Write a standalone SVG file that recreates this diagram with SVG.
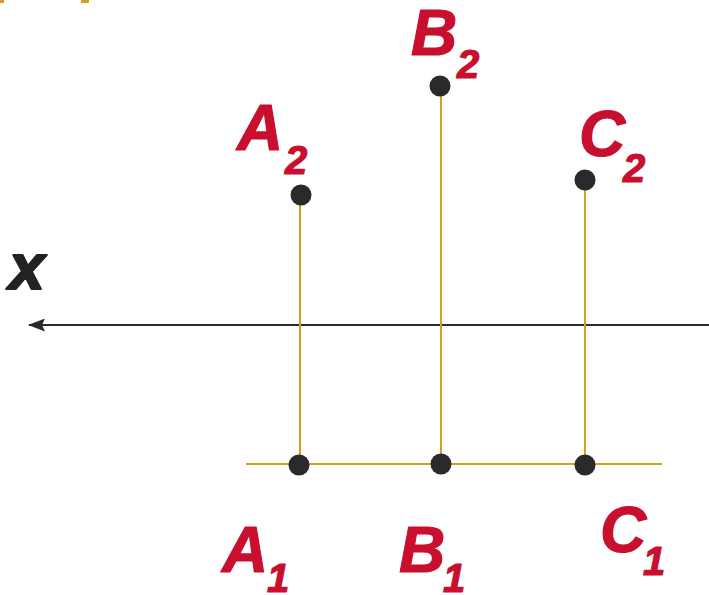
<svg xmlns="http://www.w3.org/2000/svg" width="709" height="595" viewBox="0 0 709 595">
<style>
.lbl{font-family:"Liberation Sans",Arial,sans-serif;font-weight:bold;font-style:italic;fill:#C8102E;stroke:#C8102E;stroke-width:1.2;stroke-linejoin:round}
.big{font-size:64px}
.sub{font-size:40px}
.proj{stroke:#D4A020;stroke-width:2;fill:none}
.pt{fill:#2A2A2A}
</style>
<defs>
<marker id="arr" markerWidth="17" markerHeight="13" refX="16" refY="6.5" orient="auto" markerUnits="userSpaceOnUse">
<path d="M0,0 L17,6.5 L0,13 L3,6.5 Z" fill="#2A2A2A"/>
</marker>
</defs>
<rect width="709" height="595" fill="#fff"/>
<g id="clip-fragments" fill="#D4A020">
<rect x="0" y="0" width="4" height="3"/>
<rect x="81" y="0" width="8" height="3"/>
</g>
<g id="connectors">
<line x1="709" y1="325" x2="29" y2="325" stroke="#2A2A2A" stroke-width="2" marker-end="url(#arr)"/>
<line class="proj" x1="246" y1="464" x2="662" y2="464"/>
<line class="proj" x1="300" y1="195" x2="300" y2="464"/>
<line class="proj" x1="441" y1="86" x2="441" y2="464"/>
<line class="proj" x1="585" y1="180" x2="585" y2="464"/>
</g>
<g id="axis-label"><text x="9" y="289" font-family="Liberation Sans,Arial,sans-serif" font-weight="bold" font-style="italic" font-size="64" fill="#222" stroke="#222" stroke-width="2.2" stroke-linejoin="round">x</text></g>
<g id="A2"><circle class="pt" cx="301" cy="195" r="10.5"/><text class="lbl big" x="237" y="150">A</text><text class="lbl sub" x="285" y="174">2</text></g>
<g id="B2"><circle class="pt" cx="440" cy="86" r="10.5"/><text class="lbl big" x="411" y="55">B</text><text class="lbl sub" x="457" y="78">2</text></g>
<g id="C2"><circle class="pt" cx="585" cy="180" r="10.5"/><text class="lbl big" x="579" y="156">C</text><text class="lbl sub" x="623" y="182">2</text></g>
<g id="A1"><circle class="pt" cx="299" cy="465" r="10.5"/><text class="lbl big" x="222" y="572">A</text><text class="lbl sub" x="267" y="592">1</text></g>
<g id="B1"><circle class="pt" cx="441" cy="464" r="10.5"/><text class="lbl big" x="399" y="572">B</text><text class="lbl sub" x="443" y="592">1</text></g>
<g id="C1"><circle class="pt" cx="585" cy="465" r="10.5"/><text class="lbl big" x="600" y="552">C</text><text class="lbl sub" x="643" y="575">1</text></g>
</svg>
